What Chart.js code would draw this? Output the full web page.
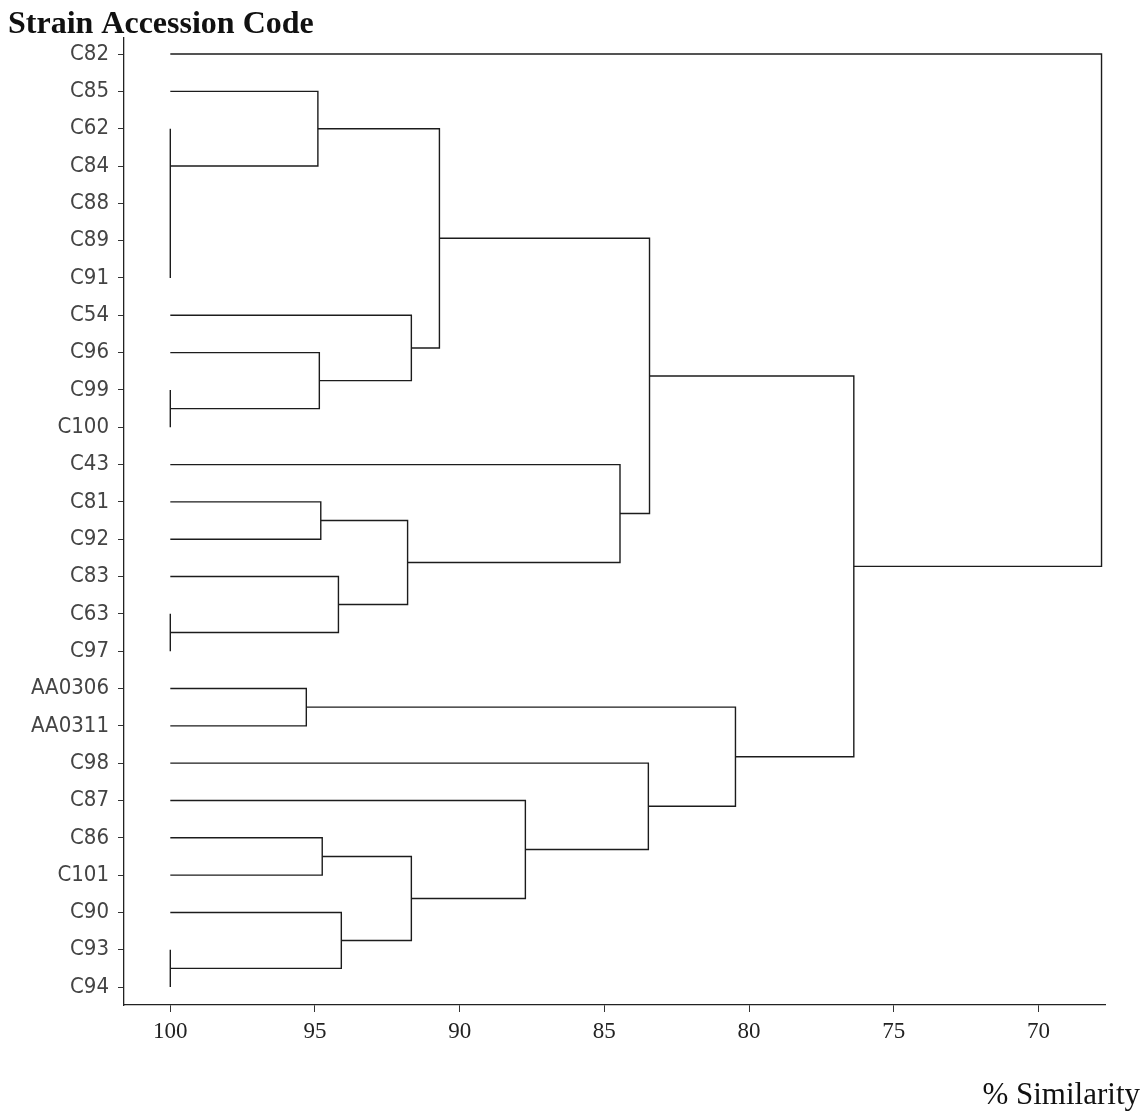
<!DOCTYPE html>
<html>
<head>
<meta charset="utf-8">
<script src="https://cdn.jsdelivr.net/npm/chart.js@4.4.1/dist/chart.umd.min.js"></script>
<style>
  html, body { margin: 0; padding: 0; background: #fff; }
  #wrap { width: 1146px; height: 1113px; position: relative; }
</style>
</head>
<body>
<div id="wrap"><canvas id="c" width="1146" height="1113"></canvas></div>
<script>
// ---- Data ----
const leaves = ['C82','C85','C62','C84','C88','C89','C91','C54','C96','C99','C100','C43','C81','C92','C83','C63','C97','AA0306','AA0311','C98','C87','C86','C101','C90','C93','C94'];

// groups of strains with 100% similarity (drawn as a vertical bar at 100)
const identicalGroups = [['C62','C84','C88','C89','C91'], ['C99','C100'], ['C63','C97'], ['C93','C94']];
const identicalJoin = ['C84', null, null, null]; // null = midpoint of group
const identicalNames = ['G0','G1','G2','G3'];

// merges: left child, right child, name, % similarity
const mergeLeft  = ['C85','C96','C54','A','C81','C83','F1','C43','B','AA0306','C86','C90','L1','C87','C98','H','D','C82'];
const mergeRight = ['G0','G1',"C'",'C','C92','G2','F2','F','E','AA0311','C101','G3','L2','L','K','J','I','G'];
const mergeNames = ['A',"C'",'C','B','F1','F2','F','E','D','H','L1','L2','L','K','J','I','G','Root'];
const mergeSim   = [94.9, 94.85, 91.67, 90.7, 94.8, 94.19, 91.8, 84.46, 83.44, 95.3, 94.75, 94.09, 91.67, 87.73, 83.48, 80.47, 76.38, 67.82];

const xTicks = [100, 95, 90, 85, 80, 75, 70];

// ---- Build line segments ----
const nodes = {};
leaves.forEach((l, i) => { nodes[l] = { s: 100, y: i }; });
const datasets = [];
const lineColor = '#1c1c1c';
function addPath(pts) {
  datasets.push({ data: pts, showLine: true, borderColor: lineColor, borderWidth: 1.4,
    pointRadius: 0, pointHoverRadius: 0, tension: 0, fill: false });
}
identicalGroups.forEach((g, k) => {
  const rows = g.map(n => leaves.indexOf(n));
  const lo = Math.min(...rows), hi = Math.max(...rows);
  const jy = identicalJoin[k] ? leaves.indexOf(identicalJoin[k]) : (lo + hi) / 2;
  nodes[identicalNames[k]] = { s: 100, y: jy };
  addPath([{ x: 100, y: lo }, { x: 100, y: hi }]);
});
mergeNames.forEach((name, k) => {
  const a = nodes[mergeLeft[k]], b = nodes[mergeRight[k]], s = mergeSim[k];
  addPath([{ x: a.s, y: a.y }, { x: s, y: a.y }, { x: s, y: b.y }, { x: b.s, y: b.y }]);
  nodes[name] = { s: s, y: (a.y + b.y) / 2 };
});

const textPlugin = {
  id: 'extraText',
  afterDraw(chart) {
    const ctx = chart.ctx;
    ctx.save();
    ctx.fillStyle = '#111';
    ctx.textBaseline = 'alphabetic';
    ctx.textAlign = 'left';
    ctx.font = 'bold 32px "Liberation Serif", "DejaVu Serif", serif';
    ctx.fillText('Strain Accession Code', 8, 33);
    ctx.textAlign = 'right';
    ctx.font = '31px "Liberation Serif", "DejaVu Serif", serif';
    ctx.fillText('% Similarity', 1140, 1104);
    ctx.restore();
  }
};

new Chart(document.getElementById('c'), {
  type: 'scatter',
  data: { datasets },
  options: {
    responsive: false,
    animation: false,
    events: [],
    layout: { padding: { top: 38, right: 41, left: 0, bottom: 0 } },
    plugins: { legend: { display: false }, tooltip: { enabled: false }, title: { display: false } },
    scales: {
      x: {
        type: 'linear', reverse: true, min: 67.7, max: 101.6,
        afterBuildTicks: s => { s.ticks = xTicks.map(v => ({ value: v })); },
        afterFit: s => { s.height = 108; },
        grid: { display: true, drawOnChartArea: false, drawTicks: true, tickLength: 7, color: '#333', lineWidth: 1 },
        border: { display: true, color: '#222', width: 1.3 },
        ticks: { color: '#222', padding: 6, maxRotation: 0, autoSkip: false,
          font: { family: '"Liberation Serif", "DejaVu Serif", serif', size: 23 },
          callback: v => String(v) }
      },
      y: {
        type: 'linear', reverse: true, min: -0.43, max: 25.48,
        afterBuildTicks: s => { s.ticks = leaves.map((l, i) => ({ value: i })); },
        afterFit: s => { s.width = 124; },
        grid: { display: true, drawOnChartArea: false, drawTicks: true, tickLength: 6, color: '#333', lineWidth: 1 },
        border: { display: true, color: '#222', width: 1.3 },
        ticks: { color: '#444', padding: 9, autoSkip: false,
          font: { family: '"Liberation Sans Narrow", "DejaVu Sans Condensed", sans-serif', size: 22 },
          callback: v => leaves[v] }
      }
    }
  },
  plugins: [textPlugin]
});
</script>
</body>
</html>
